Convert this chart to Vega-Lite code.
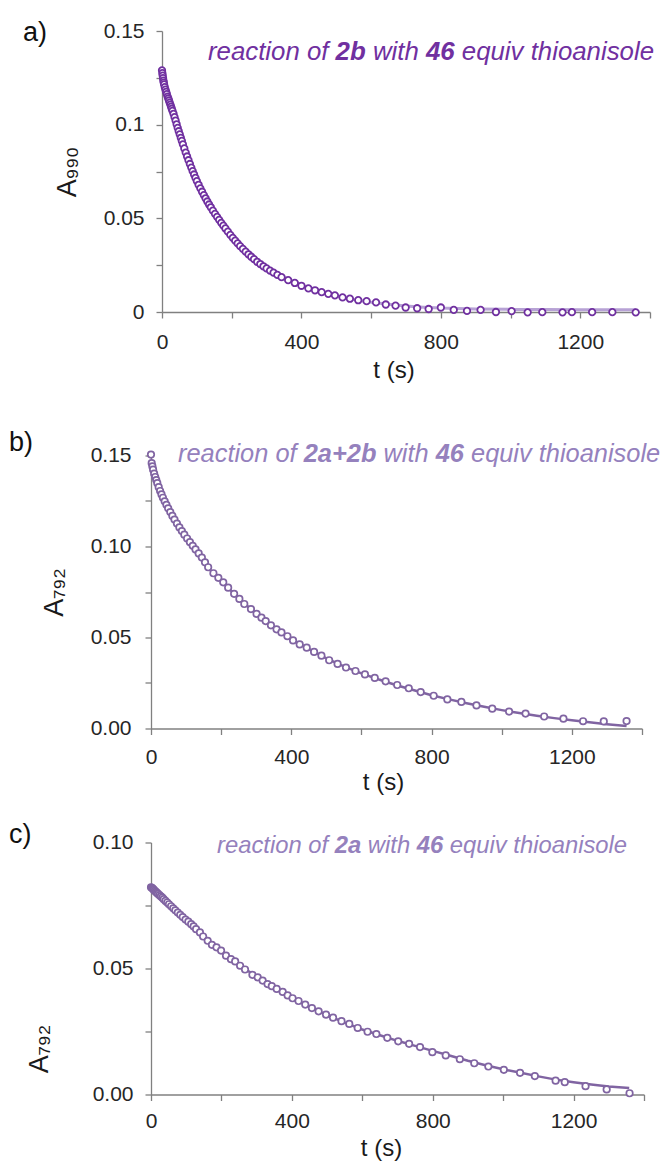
{
  "$schema": "https://vega.github.io/schema/vega-lite/v6.json",
  "padding": {"left": 9, "top": 19, "right": 0, "bottom": 0},
  "background": "white",
  "columns": 1,
  "align": "none",
  "spacing": 45.5,
  "datasets": {
    "one": [{"row": 1}],
    "a_obs": [
      {"t":0,"A":0.1290},{"t":1,"A":0.1275},{"t":2,"A":0.1262},{"t":3,"A":0.1248},{"t":4,"A":0.1235},{"t":5,"A":0.1225},{"t":6,"A":0.1215},{"t":8,"A":0.1200},{"t":10,"A":0.1187},{"t":12,"A":0.1175},{"t":14,"A":0.1163},{"t":16,"A":0.1150},{"t":18,"A":0.1140},{"t":20,"A":0.1129},{"t":22,"A":0.1118},{"t":24,"A":0.1107},{"t":26,"A":0.1096},{"t":28,"A":0.1085},{"t":30,"A":0.1074},{"t":33,"A":0.1058},{"t":36,"A":0.1040},{"t":39,"A":0.1022},{"t":42,"A":0.1002},{"t":45,"A":0.0983},{"t":48,"A":0.0965},{"t":51,"A":0.0948},{"t":54,"A":0.0930},{"t":57,"A":0.0913},{"t":60,"A":0.0895},{"t":64,"A":0.0873},{"t":68,"A":0.0851},{"t":72,"A":0.0830},{"t":76,"A":0.0810},{"t":80,"A":0.0790},{"t":84,"A":0.0771},{"t":88,"A":0.0752},{"t":92,"A":0.0734},{"t":96,"A":0.0716},{"t":100,"A":0.0699},{"t":105,"A":0.0679},{"t":110,"A":0.0660},{"t":115,"A":0.0642},{"t":120,"A":0.0624},{"t":125,"A":0.0607},{"t":130,"A":0.0590},{"t":135,"A":0.0574},{"t":140,"A":0.0559},{"t":146,"A":0.0541},{"t":152,"A":0.0524},{"t":158,"A":0.0508},{"t":164,"A":0.0492},{"t":170,"A":0.0476},{"t":176,"A":0.0461},{"t":182,"A":0.0446},{"t":189,"A":0.0429},{"t":196,"A":0.0412},{"t":203,"A":0.0396},{"t":210,"A":0.0381},{"t":217,"A":0.0366},{"t":224,"A":0.0352},{"t":232,"A":0.0337},{"t":240,"A":0.0322},{"t":248,"A":0.0308},{"t":256,"A":0.0295},{"t":264,"A":0.0282},{"t":273,"A":0.0268},{"t":282,"A":0.0256},{"t":291,"A":0.0244},{"t":300,"A":0.0233},{"t":310,"A":0.0221},{"t":320,"A":0.0210},{"t":331,"A":0.0198},{"t":343,"A":0.0186},{"t":362,"A":0.0170},{"t":381,"A":0.0155},{"t":400,"A":0.0140},{"t":420,"A":0.0126},{"t":439,"A":0.0116},{"t":458,"A":0.0106},{"t":477,"A":0.0097},{"t":496,"A":0.0089},{"t":518,"A":0.0078},{"t":539,"A":0.0071},{"t":563,"A":0.0063},{"t":587,"A":0.0058},{"t":614,"A":0.0051},{"t":642,"A":0.0040},{"t":670,"A":0.0034},{"t":699,"A":0.0024},{"t":732,"A":0.0020},{"t":765,"A":0.0016},{"t":800,"A":0.0024},{"t":837,"A":0.0011},{"t":875,"A":0.0006},{"t":914,"A":0.0011},{"t":958,"A":0.0000},{"t":1003,"A":0.0005},{"t":1049,"A":-0.0002},{"t":1091,"A":-0.0001},{"t":1149,"A":-0.0002},{"t":1176,"A":-0.0001},{"t":1234,"A":-0.0001},{"t":1292,"A":-0.0001},{"t":1359,"A":-0.0002}
    ],
    "a_fit": [
      {"t":0,"A":0.1280},{"t":20,"A":0.1130},{"t":40,"A":0.1000},{"t":60,"A":0.0885},{"t":80,"A":0.0780},{"t":100,"A":0.0692},{"t":125,"A":0.0600},{"t":150,"A":0.0528},{"t":175,"A":0.0466},{"t":200,"A":0.0408},{"t":225,"A":0.0356},{"t":250,"A":0.0310},{"t":275,"A":0.0272},{"t":300,"A":0.0238},{"t":330,"A":0.0205},{"t":360,"A":0.0176},{"t":400,"A":0.0143},{"t":450,"A":0.0110},{"t":500,"A":0.0085},{"t":550,"A":0.0066},{"t":600,"A":0.0052},{"t":650,"A":0.0041},{"t":700,"A":0.0032},{"t":750,"A":0.0026},{"t":800,"A":0.0021},{"t":900,"A":0.0016},{"t":1000,"A":0.0014},{"t":1100,"A":0.0013},{"t":1200,"A":0.0012},{"t":1360,"A":0.0012}
    ],
    "b_obs": [
      {"t":0,"A":0.1505},{"t":2,"A":0.1458},{"t":4,"A":0.1440},{"t":6,"A":0.1422},{"t":9,"A":0.1400},{"t":12,"A":0.1382},{"t":15,"A":0.1365},{"t":18,"A":0.1348},{"t":22,"A":0.1326},{"t":26,"A":0.1305},{"t":30,"A":0.1286},{"t":34,"A":0.1268},{"t":39,"A":0.1248},{"t":44,"A":0.1229},{"t":49,"A":0.1210},{"t":55,"A":0.1189},{"t":61,"A":0.1168},{"t":67,"A":0.1148},{"t":74,"A":0.1126},{"t":81,"A":0.1105},{"t":88,"A":0.1085},{"t":95,"A":0.1065},{"t":103,"A":0.1044},{"t":111,"A":0.1024},{"t":119,"A":0.1004},{"t":127,"A":0.0984},{"t":136,"A":0.0962},{"t":145,"A":0.0939},{"t":154,"A":0.0913},{"t":163,"A":0.0886},{"t":178,"A":0.0853},{"t":192,"A":0.0828},{"t":206,"A":0.0803},{"t":220,"A":0.0774},{"t":237,"A":0.0740},{"t":252,"A":0.0712},{"t":266,"A":0.0684},{"t":285,"A":0.0656},{"t":301,"A":0.0630},{"t":315,"A":0.0609},{"t":327,"A":0.0590},{"t":342,"A":0.0567},{"t":358,"A":0.0545},{"t":372,"A":0.0528},{"t":389,"A":0.0507},{"t":405,"A":0.0484},{"t":424,"A":0.0462},{"t":444,"A":0.0444},{"t":465,"A":0.0421},{"t":486,"A":0.0400},{"t":508,"A":0.0375},{"t":532,"A":0.0355},{"t":556,"A":0.0335},{"t":583,"A":0.0316},{"t":610,"A":0.0297},{"t":638,"A":0.0278},{"t":669,"A":0.0259},{"t":702,"A":0.0239},{"t":735,"A":0.0221},{"t":769,"A":0.0200},{"t":806,"A":0.0180},{"t":845,"A":0.0160},{"t":885,"A":0.0146},{"t":928,"A":0.0127},{"t":973,"A":0.0109},{"t":1021,"A":0.0093},{"t":1068,"A":0.0082},{"t":1121,"A":0.0066},{"t":1176,"A":0.0054},{"t":1232,"A":0.0040},{"t":1291,"A":0.0039},{"t":1356,"A":0.0041}
    ],
    "b_fit": [
      {"t":0,"A":0.1475},{"t":10,"A":0.1400},{"t":20,"A":0.1340},{"t":30,"A":0.1290},{"t":40,"A":0.1248},{"t":50,"A":0.1208},{"t":60,"A":0.1170},{"t":80,"A":0.1102},{"t":100,"A":0.1040},{"t":120,"A":0.0985},{"t":140,"A":0.0935},{"t":160,"A":0.0888},{"t":180,"A":0.0848},{"t":200,"A":0.0812},{"t":250,"A":0.0714},{"t":300,"A":0.0630},{"t":350,"A":0.0556},{"t":400,"A":0.0490},{"t":450,"A":0.0437},{"t":500,"A":0.0385},{"t":550,"A":0.0341},{"t":600,"A":0.0303},{"t":650,"A":0.0269},{"t":700,"A":0.0238},{"t":750,"A":0.0210},{"t":800,"A":0.0183},{"t":850,"A":0.0160},{"t":900,"A":0.0139},{"t":950,"A":0.0119},{"t":1000,"A":0.0101},{"t":1050,"A":0.0085},{"t":1100,"A":0.0070},{"t":1150,"A":0.0057},{"t":1200,"A":0.0045},{"t":1250,"A":0.0034},{"t":1300,"A":0.0024},{"t":1356,"A":0.0014}
    ],
    "c_obs": [
      {"t":0,"A":0.0822},{"t":2,"A":0.0820},{"t":4,"A":0.0818},{"t":6,"A":0.0815},{"t":8,"A":0.0812},{"t":11,"A":0.0808},{"t":14,"A":0.0804},{"t":17,"A":0.0800},{"t":20,"A":0.0796},{"t":24,"A":0.0791},{"t":28,"A":0.0786},{"t":32,"A":0.0781},{"t":36,"A":0.0775},{"t":41,"A":0.0768},{"t":46,"A":0.0762},{"t":51,"A":0.0755},{"t":57,"A":0.0747},{"t":63,"A":0.0739},{"t":69,"A":0.0731},{"t":76,"A":0.0722},{"t":83,"A":0.0713},{"t":90,"A":0.0704},{"t":98,"A":0.0694},{"t":106,"A":0.0686},{"t":114,"A":0.0676},{"t":121,"A":0.0667},{"t":128,"A":0.0656},{"t":139,"A":0.0643},{"t":148,"A":0.0627},{"t":161,"A":0.0610},{"t":173,"A":0.0594},{"t":186,"A":0.0584},{"t":199,"A":0.0571},{"t":213,"A":0.0551},{"t":227,"A":0.0537},{"t":239,"A":0.0528},{"t":253,"A":0.0511},{"t":267,"A":0.0496},{"t":288,"A":0.0475},{"t":303,"A":0.0465},{"t":317,"A":0.0452},{"t":331,"A":0.0438},{"t":343,"A":0.0430},{"t":357,"A":0.0419},{"t":374,"A":0.0407},{"t":388,"A":0.0393},{"t":402,"A":0.0382},{"t":419,"A":0.0371},{"t":438,"A":0.0357},{"t":457,"A":0.0343},{"t":476,"A":0.0330},{"t":497,"A":0.0317},{"t":517,"A":0.0305},{"t":541,"A":0.0291},{"t":563,"A":0.0280},{"t":587,"A":0.0264},{"t":615,"A":0.0249},{"t":640,"A":0.0240},{"t":671,"A":0.0225},{"t":702,"A":0.0211},{"t":733,"A":0.0201},{"t":764,"A":0.0188},{"t":799,"A":0.0168},{"t":837,"A":0.0155},{"t":877,"A":0.0140},{"t":918,"A":0.0124},{"t":958,"A":0.0111},{"t":1002,"A":0.0098},{"t":1048,"A":0.0086},{"t":1090,"A":0.0073},{"t":1149,"A":0.0055},{"t":1175,"A":0.0049},{"t":1234,"A":0.0033},{"t":1294,"A":0.0020},{"t":1359,"A":0.0005}
    ],
    "c_fit": [
      {"t":0,"A":0.0821},{"t":50,"A":0.0756},{"t":100,"A":0.0694},{"t":150,"A":0.0625},{"t":200,"A":0.0571},{"t":250,"A":0.0515},{"t":300,"A":0.0467},{"t":350,"A":0.0424},{"t":400,"A":0.0384},{"t":450,"A":0.0348},{"t":500,"A":0.0315},{"t":550,"A":0.0285},{"t":600,"A":0.0258},{"t":650,"A":0.0235},{"t":700,"A":0.0213},{"t":750,"A":0.0193},{"t":800,"A":0.0173},{"t":850,"A":0.0154},{"t":900,"A":0.0134},{"t":950,"A":0.0116},{"t":1000,"A":0.0100},{"t":1050,"A":0.0086},{"t":1100,"A":0.0072},{"t":1150,"A":0.0059},{"t":1200,"A":0.0049},{"t":1250,"A":0.0040},{"t":1300,"A":0.0032},{"t":1358,"A":0.0026}
    ]
  },
  "concat": [
    {
      "width": 499,
      "height": 281,
      "layer": [
        {"data": {"name": "a_fit"}, "mark": {"type": "line", "color": "#A58BCB", "strokeWidth": 3, "opacity": 0.8},
         "encoding": {"x": {"field": "t", "type": "quantitative", "scale": {"domain": [0, 1400], "nice": false, "range": [11, 499]}}, "y": {"field": "A", "type": "quantitative", "scale": {"domain": [0, 0.15], "nice": false}}}},
        {"data": {"name": "a_obs"}, "mark": {"type": "point", "shape": "circle", "filled": true, "fill": "#ffffff", "stroke": "#7030A0", "strokeWidth": 1.8, "size": 42, "opacity": 1},
         "encoding": {
          "x": {"field": "t", "type": "quantitative", "scale": {"domain": [0, 1400], "nice": false, "range": [11, 499]},
            "axis": {"title": "t (s)", "values": [0,200,400,600,800,1000,1200,1400], "labelExpr": "datum.value % 400 === 0 ? format(datum.value, 'd') : ''", "labelPadding": 13, "titleX": 242.5, "titleY": 58.5, "titleBaseline": "middle"}},
          "y": {"field": "A", "type": "quantitative", "scale": {"domain": [0, 0.15], "nice": false},
            "axis": {"title": "A₉₉₀", "offset": -11, "values": [0,0.025,0.05,0.075,0.1,0.125,0.15], "labelExpr": "round(datum.value*1000) % 50 === 0 ? format(datum.value, '~g') : ''", "labelPadding": 12, "titleFontSize": 27, "titlePadding": 22}}
         }},
        {"data": {"name": "one"}, "mark": {"type": "text", "align": "left", "baseline": "alphabetic", "dx": 0, "font": "Liberation Sans", "fontSize": 25.8, "fontStyle": "italic", "color": "#7030A0"}, "encoding": {"text": {"value": "reaction of"}, "x": {"datum": 132}, "y": {"datum": 0.1344}}},
        {"data": {"name": "one"}, "mark": {"type": "text", "align": "left", "baseline": "alphabetic", "dx": 127.6, "font": "Liberation Sans", "fontSize": 25.8, "fontStyle": "italic", "fontWeight": "bold", "color": "#7030A0"}, "encoding": {"text": {"value": "2b"}, "x": {"datum": 132}, "y": {"datum": 0.1344}}},
        {"data": {"name": "one"}, "mark": {"type": "text", "align": "left", "baseline": "alphabetic", "dx": 164.9, "font": "Liberation Sans", "fontSize": 25.8, "fontStyle": "italic", "color": "#7030A0"}, "encoding": {"text": {"value": "with"}, "x": {"datum": 132}, "y": {"datum": 0.1344}}},
        {"data": {"name": "one"}, "mark": {"type": "text", "align": "left", "baseline": "alphabetic", "dx": 218.0, "font": "Liberation Sans", "fontSize": 25.8, "fontStyle": "italic", "fontWeight": "bold", "color": "#7030A0"}, "encoding": {"text": {"value": "46"}, "x": {"datum": 132}, "y": {"datum": 0.1344}}},
        {"data": {"name": "one"}, "mark": {"type": "text", "align": "left", "baseline": "alphabetic", "dx": 253.8, "font": "Liberation Sans", "fontSize": 25.8, "fontStyle": "italic", "color": "#7030A0"}, "encoding": {"text": {"value": "equiv thioanisole"}, "x": {"datum": 132}, "y": {"datum": 0.1344}}},
        {"data": {"name": "one"}, "mark": {"type": "text", "align": "left", "baseline": "alphabetic", "dx": -139, "dy": 10, "font": "Liberation Sans", "fontSize": 27, "color": "#111111"}, "encoding": {"text": {"value": "a)"}, "x": {"datum": 0}, "y": {"datum": 0.15}}}
      ]
    },
    {
      "columns": 1,
      "align": "none",
      "spacing": 26,
      "concat": [
        {
          "width": 491,
          "height": 273,
          "layer": [
            {"data": {"name": "b_fit"}, "mark": {"type": "line", "color": "#8064A2", "strokeWidth": 2.5},
             "encoding": {"x": {"field": "t", "type": "quantitative", "scale": {"domain": [0, 1400], "nice": false}}, "y": {"field": "A", "type": "quantitative", "scale": {"domain": [0, 0.15], "nice": false}}}},
            {"data": {"name": "b_obs"}, "mark": {"type": "point", "shape": "circle", "filled": true, "fill": "#ffffff", "stroke": "#8064A2", "strokeWidth": 1.7, "size": 42, "opacity": 1},
             "encoding": {
              "x": {"field": "t", "type": "quantitative", "scale": {"domain": [0, 1400], "nice": false},
                "axis": {"title": "t (s)", "values": [0,200,400,600,800,1000,1200,1400], "labelExpr": "datum.value % 400 === 0 ? format(datum.value, 'd') : ''", "labelPadding": 12, "titleX": 232, "titleY": 53.5, "titleBaseline": "middle"}},
              "y": {"field": "A", "type": "quantitative", "scale": {"domain": [0, 0.15], "nice": false},
                "axis": {"title": "A₇₉₂", "values": [0,0.025,0.05,0.075,0.1,0.125,0.15], "labelExpr": "round(datum.value*1000) % 50 === 0 ? format(datum.value, '.2f') : ''", "labelPadding": 14, "titleFontSize": 27, "titlePadding": 22}}
             }},
            {"data": {"name": "one"}, "mark": {"type": "text", "align": "left", "baseline": "alphabetic", "dx": 0, "font": "Liberation Sans", "fontSize": 25.4, "fontStyle": "italic", "color": "#9581BD"}, "encoding": {"text": {"value": "reaction of"}, "x": {"datum": 77}, "y": {"datum": 0.1465}}},
            {"data": {"name": "one"}, "mark": {"type": "text", "align": "left", "baseline": "alphabetic", "dx": 125.7, "font": "Liberation Sans", "fontSize": 25.4, "fontStyle": "italic", "fontWeight": "bold", "color": "#9581BD"}, "encoding": {"text": {"value": "2a+2b"}, "x": {"datum": 77}, "y": {"datum": 0.1465}}},
            {"data": {"name": "one"}, "mark": {"type": "text", "align": "left", "baseline": "alphabetic", "dx": 205.4, "font": "Liberation Sans", "fontSize": 25.4, "fontStyle": "italic", "color": "#9581BD"}, "encoding": {"text": {"value": "with"}, "x": {"datum": 77}, "y": {"datum": 0.1465}}},
            {"data": {"name": "one"}, "mark": {"type": "text", "align": "left", "baseline": "alphabetic", "dx": 257.7, "font": "Liberation Sans", "fontSize": 25.4, "fontStyle": "italic", "fontWeight": "bold", "color": "#9581BD"}, "encoding": {"text": {"value": "46"}, "x": {"datum": 77}, "y": {"datum": 0.1465}}},
            {"data": {"name": "one"}, "mark": {"type": "text", "align": "left", "baseline": "alphabetic", "dx": 293.0, "font": "Liberation Sans", "fontSize": 25.4, "fontStyle": "italic", "color": "#9581BD"}, "encoding": {"text": {"value": "equiv thioanisole"}, "x": {"datum": 77}, "y": {"datum": 0.1465}}},
            {"data": {"name": "one"}, "mark": {"type": "text", "align": "left", "baseline": "alphabetic", "dx": -142, "dy": -4.6, "font": "Liberation Sans", "fontSize": 27, "color": "#111111"}, "encoding": {"text": {"value": "b)"}, "x": {"datum": 0}, "y": {"datum": 0.15}}}
          ]
        },
        {
          "width": 493,
          "height": 252,
          "layer": [
            {"data": {"name": "c_fit"}, "mark": {"type": "line", "color": "#8064A2", "strokeWidth": 2.5},
             "encoding": {"x": {"field": "t", "type": "quantitative", "scale": {"domain": [0, 1400], "nice": false}}, "y": {"field": "A", "type": "quantitative", "scale": {"domain": [0, 0.1], "nice": false}}}},
            {"data": {"name": "c_obs"}, "mark": {"type": "point", "shape": "circle", "filled": true, "fill": "#ffffff", "stroke": "#8064A2", "strokeWidth": 1.7, "size": 42, "opacity": 1},
             "encoding": {
              "x": {"field": "t", "type": "quantitative", "scale": {"domain": [0, 1400], "nice": false},
                "axis": {"title": "t (s)", "values": [0,200,400,600,800,1000,1200,1400], "labelExpr": "datum.value % 400 === 0 ? format(datum.value, 'd') : ''", "labelPadding": 10, "titleX": 230, "titleY": 54, "titleBaseline": "middle"}},
              "y": {"field": "A", "type": "quantitative", "scale": {"domain": [0, 0.1], "nice": false},
                "axis": {"title": "A₇₉₂", "values": [0,0.025,0.05,0.075,0.1], "labelExpr": "round(datum.value*1000) % 50 === 0 ? format(datum.value, '.2f') : ''", "labelPadding": 12, "titleFontSize": 27, "titleX": -98, "titleY": 206}}
             }},
            {"data": {"name": "one"}, "mark": {"type": "text", "align": "left", "baseline": "alphabetic", "dx": 0, "font": "Liberation Sans", "fontSize": 23.8, "fontStyle": "italic", "color": "#9581BD"}, "encoding": {"text": {"value": "reaction of"}, "x": {"datum": 187.4}, "y": {"datum": 0.0960}}},
            {"data": {"name": "one"}, "mark": {"type": "text", "align": "left", "baseline": "alphabetic", "dx": 117.7, "font": "Liberation Sans", "fontSize": 23.8, "fontStyle": "italic", "fontWeight": "bold", "color": "#9581BD"}, "encoding": {"text": {"value": "2a"}, "x": {"datum": 187.4}, "y": {"datum": 0.0960}}},
            {"data": {"name": "one"}, "mark": {"type": "text", "align": "left", "baseline": "alphabetic", "dx": 150.8, "font": "Liberation Sans", "fontSize": 23.8, "fontStyle": "italic", "color": "#9581BD"}, "encoding": {"text": {"value": "with"}, "x": {"datum": 187.4}, "y": {"datum": 0.0960}}},
            {"data": {"name": "one"}, "mark": {"type": "text", "align": "left", "baseline": "alphabetic", "dx": 199.8, "font": "Liberation Sans", "fontSize": 23.8, "fontStyle": "italic", "fontWeight": "bold", "color": "#9581BD"}, "encoding": {"text": {"value": "46"}, "x": {"datum": 187.4}, "y": {"datum": 0.0960}}},
            {"data": {"name": "one"}, "mark": {"type": "text", "align": "left", "baseline": "alphabetic", "dx": 232.8, "font": "Liberation Sans", "fontSize": 23.8, "fontStyle": "italic", "color": "#9581BD"}, "encoding": {"text": {"value": "equiv thioanisole"}, "x": {"datum": 187.4}, "y": {"datum": 0.0960}}},
            {"data": {"name": "one"}, "mark": {"type": "text", "align": "left", "baseline": "alphabetic", "dx": -142, "dy": 0.4, "font": "Liberation Sans", "fontSize": 27, "color": "#111111"}, "encoding": {"text": {"value": "c)"}, "x": {"datum": 0}, "y": {"datum": 0.1}}}
          ]
        }
      ]
    }
  ],
  "config": {
    "view": {"stroke": null},
    "font": "Liberation Sans",
    "axis": {
      "labelFont": "Liberation Sans", "titleFont": "Liberation Sans",
      "labelColor": "#262626", "titleColor": "#1a1a1a",
      "domainColor": "#808080", "tickColor": "#808080",
      "domainWidth": 1.3, "tickWidth": 1.3, "tickSize": 6,
      "grid": false, "labelFontSize": 21, "titleFontSize": 24, "titleFontWeight": "normal",
      "labelFlush": false, "labelOverlap": false, "labelBound": false
    }
  }
}
